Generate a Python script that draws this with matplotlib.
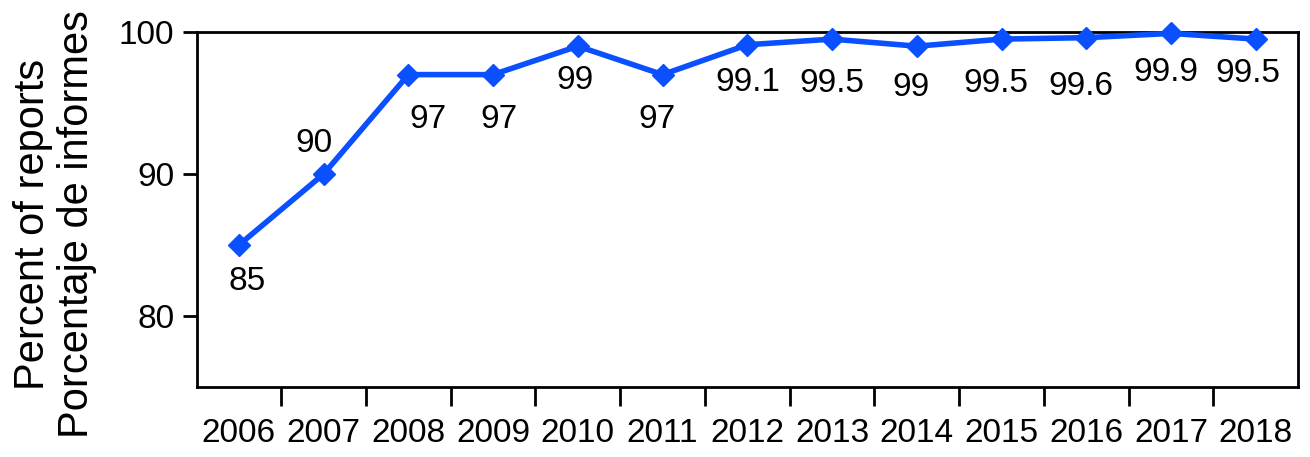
import matplotlib.pyplot as plt
import numpy as np

plt.rcParams['font.family'] = ['Liberation Sans', 'DejaVu Sans']

years = ['2006', '2007', '2008', '2009', '2010', '2011', '2012',
         '2013', '2014', '2015', '2016', '2017', '2018']
percent = [85, 90, 97, 97, 99, 97, 99.1, 99.5, 99, 99.5, 99.6, 99.9, 99.5]
labels = ['85', '90', '97', '97', '99', '97', '99.1', '99.5', '99', '99.5', '99.6', '99.9', '99.5']

# label offsets in points (dx, dy)
offsets = [(6, -26), (-7, 22), (14, -32), (4, -32), (-2, -25), (-4, -32), (0, -27),
           (0, -32), (-4, -30), (-4, -32), (-4, -35), (-4, -28), (-6, -25)]

FONTSIZE = 24
BLUE = '#0a50ff'

fig = plt.figure(figsize=(13.1, 4.57), dpi=100)
ax = fig.add_axes([0.150, 0.153, 0.841, 0.777])

x = np.arange(len(years))
ax.plot(x, percent, color=BLUE, linewidth=4, marker='D', markersize=11,
        clip_on=False, zorder=3)

for xi, yi, lab, (dx, dy) in zip(x, percent, labels, offsets):
    ax.annotate(lab, (xi, yi), xytext=(dx, dy), textcoords='offset points',
                ha='center', va='center', fontsize=FONTSIZE)

ax.set_xlim(-0.5, len(years) - 0.5)
ax.set_ylim(75, 100)

# tick marks at category boundaries, labels at category centers
ax.set_xticks(np.arange(0.5, len(years) - 1, 1.0))
ax.set_xticklabels([])
ax.set_xticks(x, minor=True)
ax.set_xticklabels(years, minor=True, fontsize=FONTSIZE)
ax.tick_params(axis='x', which='major', length=14, width=2, direction='out')
ax.tick_params(axis='x', which='minor', length=0, pad=22)

ax.set_yticks([80, 90, 100])
ax.tick_params(axis='y', labelsize=FONTSIZE, length=10, width=2, pad=6)

for sp in ax.spines.values():
    sp.set_linewidth(2)

fig.text(55 / 1310, 1 - 224 / 457, 'Percent of reports\nPorcentaje de informes',
         fontsize=30, rotation=90, ha='center', va='center', linespacing=1.1)

fig.savefig('out.png', dpi=100)
